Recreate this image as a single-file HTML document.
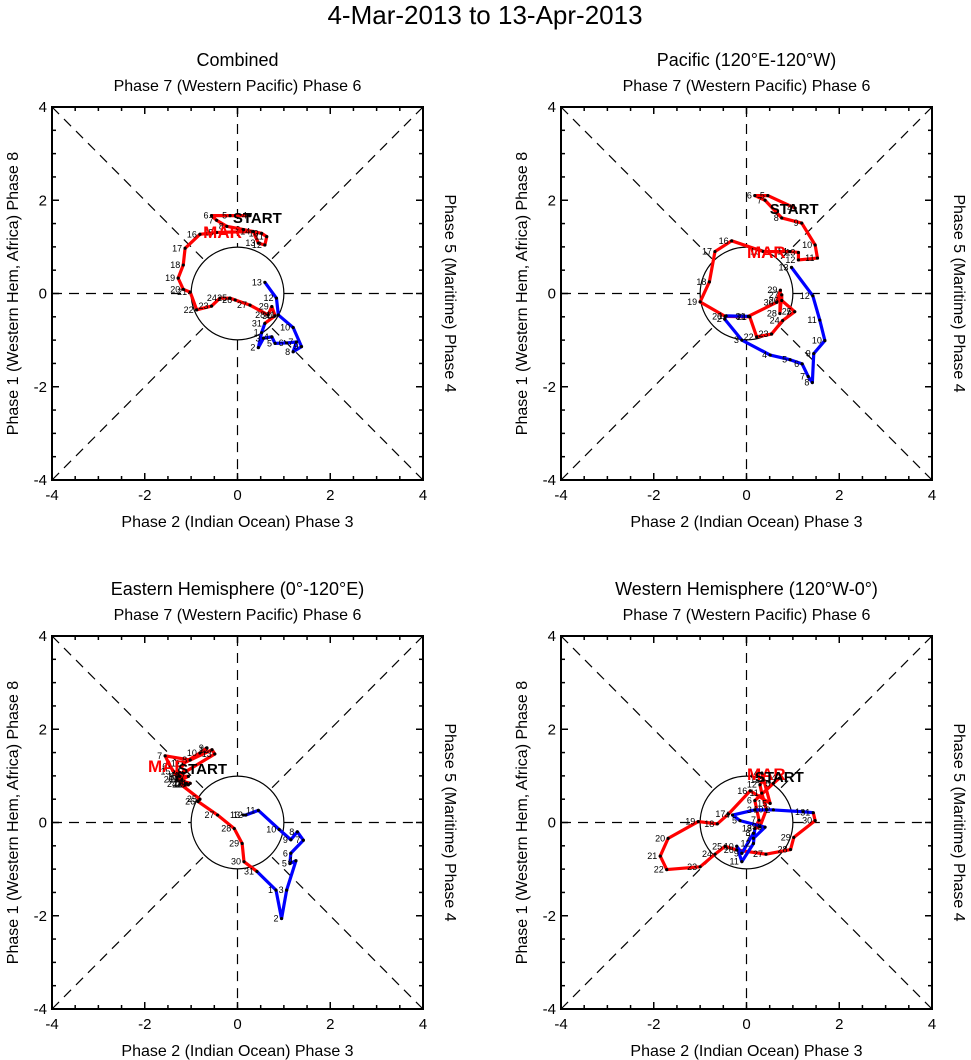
<!DOCTYPE html>
<html><head><meta charset="utf-8">
<style>
html,body{margin:0;padding:0;background:#fff;}
svg{display:block;font-family:"Liberation Sans",Arial,sans-serif;}
</style></head>
<body>
<svg id="chart" width="971" height="1060" viewBox="0 0 971 1060" xmlns="http://www.w3.org/2000/svg">
<text x="485" y="24" font-size="26" text-anchor="middle">4-Mar-2013 to 13-Apr-2013</text>
</svg>
<script>
// ---- data (RMM1, RMM2) per panel ----
const panelTitles = ["Combined","Pacific (120°E-120°W)","Eastern Hemisphere (0°-120°E)","Western Hemisphere (120°W-0°)"];
const marchDays = [4,5,6,7,8,9,10,11,12,13,14,15,16,17,18,19,20,21,22,23,24,25,26,27,28,29,30,31];
const aprilDays = [1,2,3,4,5,6,7,8,9,10,11,12,13];
const tickLabels = [-4,-2,0,2,4];

const marchX0 = [0.27,-0.16,-0.56,-0.45,-0.23,0.13,0.52,0.63,0.59,0.45,0.34,-0.45,-0.81,-1.13,-1.17,-1.28,-1.17,-1.02,-0.88,-0.56,-0.38,-0.16,-0.05,0.27,0.66,0.74,0.81,0.59];
const marchY0 = [1.67,1.67,1.67,1.57,1.44,1.37,1.29,1.22,1.04,1.08,1.33,1.31,1.27,0.97,0.61,0.33,0.09,0.03,-0.35,-0.27,-0.1,-0.1,-0.14,-0.25,-0.46,-0.28,-0.48,-0.64];
const aprilX0 = [0.52,0.45,0.56,0.74,0.81,1.06,1.27,1.2,1.38,1.2,0.88,0.84,0.59];
const aprilY0 = [-0.84,-1.16,-0.96,-0.93,-1.07,-1.06,-1.04,-1.25,-1.14,-0.73,-0.46,-0.1,0.24];

const marchX1 = [1.05,0.46,0.18,0.4,0.76,1.19,1.48,1.53,1.12,1.12,0.94,0.36,-0.32,-0.68,-0.8,-1.0,-0.46,0.07,0.22,0.54,0.78,1.04,0.76,0.76,0.72,0.73,0.65,0.04];
const marchY1 = [1.83,2.1,2.1,2.0,1.62,1.51,1.04,0.76,0.72,0.88,0.9,0.9,1.13,0.9,0.25,-0.18,-0.49,-0.5,-0.93,-0.87,-0.58,-0.39,-0.15,-0.03,-0.43,0.07,-0.19,-0.49];
const aprilX1 = [-0.44,-0.47,-0.1,0.51,0.94,1.2,1.33,1.42,1.45,1.69,1.58,1.43,0.97];
const aprilY1 = [-0.48,-0.55,-1.0,-1.32,-1.42,-1.51,-1.78,-1.91,-1.29,-1.01,-0.57,-0.05,0.56];

const marchX2 = [-1.16,-1.3,-1.45,-1.56,-1.02,-0.66,-0.81,-1.17,-0.55,-0.49,-1.17,-1.38,-1.2,-1.06,-1.24,-1.1,-1.31,-1.02,-1.13,-1.06,-1.24,-0.81,-0.85,-0.43,-0.07,0.1,0.14,0.42];
const marchY2 = [1.09,0.98,1.2,1.43,1.34,1.6,1.49,1.27,1.56,1.47,1.06,1.09,0.92,0.99,0.99,0.84,0.92,0.84,0.81,0.81,0.83,0.5,0.45,0.16,-0.13,-0.45,-0.84,-1.05];
const aprilX2 = [0.83,0.95,1.06,1.26,1.13,1.15,1.42,1.29,1.15,0.9,0.45,0.18,0.12];
const aprilY2 = [-1.45,-2.06,-1.45,-0.82,-0.88,-0.66,-0.38,-0.2,-0.37,-0.15,0.26,0.16,0.16];

const marchX3 = [0.71,0.58,0.18,0.27,0.18,0.29,0.43,0.33,0.29,0.36,0.33,0.51,0.08,-0.39,-0.63,-1.04,-1.69,-1.86,-1.72,-1.0,-0.68,-0.46,-0.21,0.42,0.95,1.02,1.48,1.44];
const marchY3 = [0.95,0.84,0.47,0.05,-0.13,-0.09,0.28,0.63,0.81,0.91,1.06,0.41,0.68,0.18,-0.03,0.02,-0.34,-0.72,-1.01,-0.95,-0.68,-0.51,-0.59,-0.68,-0.58,-0.32,0.04,0.21];
const aprilX3 = [1.22,0.58,0.18,-0.3,-0.14,0.4,0.15,0.15,-0.1,-0.21,-0.1,0.15,0.18];
const aprilY3 = [0.23,0.27,0.27,0.16,0.04,-0.1,-0.34,-0.23,-0.66,-0.51,-0.84,-0.45,-0.13];

const marchXs=[marchX0,marchX1,marchX2,marchX3], marchYs=[marchY0,marchY1,marchY2,marchY3];
const aprilXs=[aprilX0,aprilX1,aprilX2,aprilX3], aprilYs=[aprilY0,aprilY1,aprilY2,aprilY3];

const NS="http://www.w3.org/2000/svg";
const svg=document.getElementById('chart');
function mk(tag,attrs,parent,text){const e=document.createElementNS(NS,tag);for(const k in attrs)e.setAttribute(k,attrs[k]);if(text!==undefined)e.textContent=text;(parent||svg).appendChild(e);return e;}

const boxes=[{x0:52,y0:107},{x0:561,y0:107},{x0:52,y0:636},{x0:561,y0:636}];
const startAnchor=[[-0.1,1.51],[0.5,1.71],[-1.28,1.04],[0.18,0.87]];
const marAnchor=[[-0.74,1.19],[0.01,0.76],[-1.93,1.08],[0.01,0.91]];
const W=371,H=373;

boxes.forEach((b,p)=>{
  const g=mk('g',{});
  
  
  const sx=v=>b.x0+(v+4)/8*W;
  const sy=v=>b.y0+(4-v)/8*H;
  const cx=sx(0),cy=sy(0);
  const rpx=sx(1)-cx;
  const dash={stroke:'#000','stroke-width':1.2,'stroke-dasharray':'10,7',fill:'none'};
  const ax1=mk('line',Object.assign({x1:sx(-4),y1:cy,x2:sx(-1),y2:cy},dash),g);
  
  const ax2=mk('line',Object.assign({x1:sx(1),y1:cy,x2:sx(4),y2:cy},dash),g);
  
  const ax3=mk('line',Object.assign({x1:cx,y1:sy(4),x2:cx,y2:sy(1)},dash),g);
  
  const ax4=mk('line',Object.assign({x1:cx,y1:sy(-1),x2:cx,y2:sy(-4)},dash),g);
  
  const d=Math.SQRT1_2;
  [[1,1],[1,-1],[-1,1],[-1,-1]].forEach(([a,c])=>{
    const l=mk('line',Object.assign({x1:sx(4*a),y1:sy(4*c),x2:sx(d*a),y2:sy(d*c)},dash),g);
    
  });
  const circ=mk('circle',{cx:cx,cy:cy,r:rpx,fill:'none',stroke:'#000','stroke-width':1.2},g);
  
  const rect=mk('rect',{x:b.x0,y:b.y0,width:W,height:H,fill:'none',stroke:'#000','stroke-width':2},g);
  
  for(let v=-4;v<=4.001;v+=0.5){
    const major=Math.abs(v/2-Math.round(v/2))<1e-6;
    const L=major?7:4;
    const t1=mk('line',{x1:sx(v),y1:b.y0+H,x2:sx(v),y2:b.y0+H-L,stroke:'#000','stroke-width':1.5},g);
    
    const t2=mk('line',{x1:sx(v),y1:b.y0,x2:sx(v),y2:b.y0+L,stroke:'#000','stroke-width':1.5},g);
    
    const t3=mk('line',{x1:b.x0,y1:sy(v),x2:b.x0+L,y2:sy(v),stroke:'#000','stroke-width':1.5},g);
    
    const t4=mk('line',{x1:b.x0+W,y1:sy(v),x2:b.x0+W-L,y2:sy(v),stroke:'#000','stroke-width':1.5},g);
    
  }
  tickLabels.forEach(v=>{
    const tx=mk('text',{x:sx(v),y:b.y0+H+20,'font-size':15,'text-anchor':'middle'},g,String(v));
    
    const ty=mk('text',{x:b.x0-5,y:sy(v)+5,'font-size':15,'text-anchor':'end'},g,String(v));
    
  });
  const mid=b.x0+W/2;
  const tt=mk('text',{x:mid,y:b.y0-41,'font-size':18,'text-anchor':'middle'},g,panelTitles[p]);
  
  const tl=mk('text',{x:mid,y:b.y0-16,'font-size':16,'text-anchor':'middle'},g,'Phase 7 (Western Pacific) Phase 6');
  
  const bl=mk('text',{x:mid,y:b.y0+H+47,'font-size':16,'text-anchor':'middle'},g,'Phase 2 (Indian Ocean) Phase 3');
  
  const lx=b.x0-34, ly=b.y0+H/2;
  const ll=mk('text',{x:lx,y:ly,'font-size':16,'text-anchor':'middle',transform:`rotate(-90 ${lx} ${ly})`},g,'Phase 1 (Western Hem, Africa) Phase 8');
  
  const rx=b.x0+W+22, ry=b.y0+H/2;
  const rl=mk('text',{x:rx,y:ry,'font-size':16,'text-anchor':'middle',transform:`rotate(90 ${rx} ${ry})`},g,'Phase 5 (Maritime) Phase 4');
  

  const mx=marchXs[p],my=marchYs[p],axs=aprilXs[p],ays=aprilYs[p];
  const mPts=mx.map((v,i)=>sx(v)+','+sy(my[i])).join(' ');
  const aPts=[sx(mx[mx.length-1])+','+sy(my[my.length-1])].concat(axs.map((v,i)=>sx(v)+','+sy(ays[i]))).join(' ');
  const rl2=mk('polyline',{points:mPts,fill:'none',stroke:'#f00','stroke-width':3.2,'stroke-linejoin':'round'},g);
  
  const bl2=mk('polyline',{points:aPts,fill:'none',stroke:'#00f','stroke-width':3.2,'stroke-linejoin':'round'},g);
  
  function pts(xs,ys,days,nm){
    xs.forEach((v,i)=>{
      const c=mk('circle',{cx:sx(v),cy:sy(ys[i]),r:1.6,fill:'#000'},g);
      
      const t=mk('text',{x:sx(v)-3,y:sy(ys[i])+3,'font-size':9,'text-anchor':'end'},g,String(days[i]));
      
    });
  }
  pts(mx,my,marchDays,'march');
  pts(axs,ays,aprilDays,'april');
  const m=mk('text',{x:sx(marAnchor[p][0]),y:sy(marAnchor[p][1]),'font-size':17,'font-weight':'bold',fill:'#f00'},g,'MAR');
  
  const s=mk('text',{x:sx(startAnchor[p][0]),y:sy(startAnchor[p][1]),'font-size':15,'font-weight':'bold'},g,'START');
  
});
</script>
</body></html>
